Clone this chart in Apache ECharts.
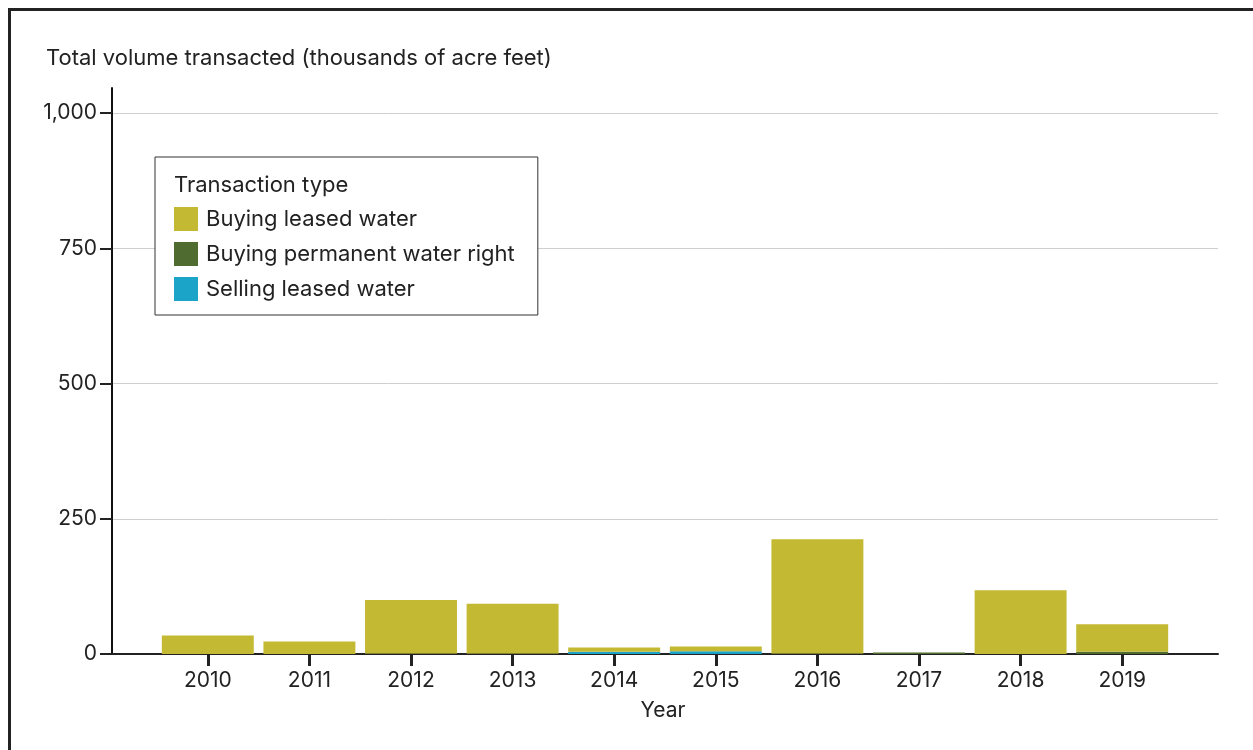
<!DOCTYPE html>
<html><head><meta charset="utf-8">
<script src="https://cdn.jsdelivr.net/npm/echarts@6/dist/echarts.min.js"></script>
<style>
html,body{margin:0;padding:0;background:#fff;overflow:hidden;}
#frame{position:absolute;left:8px;top:8px;width:1300px;height:800px;border-top:3px solid #222;border-left:3px solid #222;box-sizing:border-box;}
#chart{position:absolute;left:0;top:0;width:1253px;height:750px;}
</style></head>
<body>
<div id="frame"></div>
<div id="chart"></div>
<script>
const years = ['2010','2011','2012','2013','2014','2015','2016','2017','2018','2019'];
const buyingLeased    = [34, 23, 99, 92, 8, 9, 211, 0, 118, 51];
const buyingPermanent = [0, 0, 1, 1, 0, 0, 1, 3, 0, 4];
const sellingLeased   = [0, 0, 0, 0, 4, 5, 0, 0, 0, 0];
const yTicks = [0, 250, 500, 750, 1000];

const FONT = 'Inter, Roboto, sans-serif';
const TXT = '#222';
const C_LEASED = '#C4B933', C_PERM = '#506B2F', C_SELL = '#1BA3C8';

const chart = echarts.init(document.getElementById('chart'));
const option = {
  animation: false,
  backgroundColor: 'transparent',
  textStyle: { fontFamily: FONT },
  title: [
    { text: 'Total volume transacted (thousands of acre feet)',
      left: 41, top: 42,
      textStyle: { fontFamily: FONT, fontSize: 22, fontWeight: 'normal', color: TXT } },
    { text: 'Transaction type', left: 169, top: 169, z: 10,
      textStyle: { fontFamily: FONT, fontSize: 22, fontWeight: 'normal', color: TXT } }
  ],
  legend: {
    orient: 'vertical', left: 155, top: 157,
    padding: [50, 23, 14, 19],
    borderColor: '#333', borderWidth: 1,
    backgroundColor: '#fff',
    itemWidth: 24, itemHeight: 24, itemGap: 11,
    icon: 'rect',
    textStyle: { fontFamily: FONT, fontSize: 22, color: TXT, padding: [0,0,0,3] },
    data: ['Buying leased water', 'Buying permanent water right', 'Selling leased water']
  },
  grid: [
    { left: 112, right: 35, top: 113, bottom: 96, containLabel: false },
    { left: 157, right: 80, top: 113, bottom: 96, containLabel: false },
    { left: 112, right: 35, top: 88, bottom: 96, containLabel: false }
  ],
  xAxis: [
    { gridIndex: 0, type: 'category', data: years, z: 1,
      axisLine: { show: true, lineStyle: { color: '#222', width: 2 } },
      axisTick: { show: false }, axisLabel: { show: false } },
    { gridIndex: 1, type: 'category', data: years,
      name: 'Year', nameLocation: 'middle', nameGap: 46,
      nameTextStyle: { fontFamily: FONT, fontSize: 21, color: TXT, padding: [0, 0, 0, -4] },
      axisLine: { show: false },
      axisTick: { show: true, alignWithLabel: true, length: 12, lineStyle: { color: '#222', width: 3 } },
      axisLabel: { fontFamily: FONT, fontSize: 21, color: TXT, margin: 16 } },
    { gridIndex: 2, type: 'category', data: years, show: false }
  ],
  yAxis: [
    { gridIndex: 0, type: 'value', min: 0, max: 1000, interval: 250,
      axisLine: { show: true, lineStyle: { color: '#111', width: 2 } },
      axisTick: { show: true, length: 12, lineStyle: { color: '#222', width: 2 } },
      axisLabel: { fontFamily: FONT, fontSize: 21, color: TXT, margin: 15,
        formatter: v => yTicks.includes(v) ? v.toLocaleString('en-US') : '' },
      splitLine: { show: true, lineStyle: { color: '#cfcfcf', width: 1 } } },
    { gridIndex: 1, type: 'value', min: 0, max: 1000, interval: 250, show: false, splitLine: { show: false } },
    { gridIndex: 2, type: 'value', min: 0, max: 1046,
      axisLine: { show: true, lineStyle: { color: '#111', width: 2 } },
      axisTick: { show: false }, axisLabel: { show: false }, splitLine: { show: false } }
  ],
  series: [
    { name: 'Selling leased water', type: 'bar', stack: 'v', xAxisIndex: 1, yAxisIndex: 1, z: 5,
      data: sellingLeased, itemStyle: { color: C_SELL }, barCategoryGap: '9.5%' },
    { name: 'Buying permanent water right', type: 'bar', stack: 'v', xAxisIndex: 1, yAxisIndex: 1, z: 5,
      data: buyingPermanent, itemStyle: { color: C_PERM }, barCategoryGap: '9.5%' },
    { name: 'Buying leased water', type: 'bar', stack: 'v', xAxisIndex: 1, yAxisIndex: 1, z: 5,
      data: buyingLeased, itemStyle: { color: C_LEASED }, barCategoryGap: '9.5%' }
  ]
};
chart.setOption(option);
</script>
</body></html>
